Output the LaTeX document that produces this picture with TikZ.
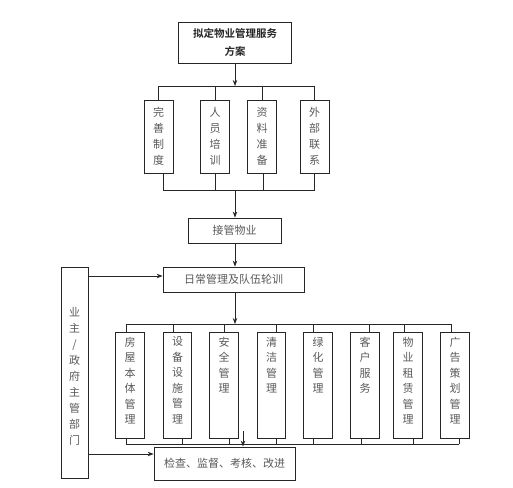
\documentclass[tikz,border=0pt]{standalone}
\usepackage{fontspec}
\setmainfont{Noto Sans CJK SC}[BoldFont={Noto Sans CJK SC Bold}]
\usetikzlibrary{arrows.meta}
\begin{document}
\begin{tikzpicture}[x=1pt,y=-1pt,
  line/.style={draw=black!85, line width=0.8pt},
  arr/.style={line, -{Stealth[length=6pt,width=4.5pt]}},
  box/.style={line, inner sep=0pt, text=black!65, font=\fontsize{11pt}{14pt}\selectfont},
  vboxA/.style={box, minimum width=29pt, minimum height=73pt, align=center, font=\fontsize{11pt}{16pt}\selectfont},
  vboxB/.style={box, minimum width=28.5pt, minimum height=106pt},
  vtxt/.style={inner sep=0pt, anchor=north, align=center, text=black!65, font=\fontsize{11pt}{15.5pt}\selectfont}
]
\useasboundingbox (0,0) rectangle (513,487);

% top
\node[box, minimum width=113pt, minimum height=41pt, align=center, text=black!85,
      font=\bfseries\fontsize{10.5pt}{18pt}\selectfont] (top) at (235,42.5) {拟定物业管理服务\\方案};

% first row
\coordinate (bar1L) at (158.5,86);
\coordinate (bar1R) at (314.5,86);
\draw[line] (bar1L) -- (bar1R);
\draw[arr] (top.south) -- (top.south |- bar1L);
\node[vboxA] (a1) at (158.5,136.5) {完\\善\\制\\度};
\node[vboxA] (a2) at (215,136.5) {人\\员\\培\\训};
\node[vboxA] (a3) at (262,136.5) {资\\料\\准\\备};
\node[vboxA] (a4) at (314.5,136.5) {外\\部\\联\\系};
\foreach \n in {a1,a2,a3,a4} \draw[line] (\n.north) -- (\n.north |- bar1L);

\coordinate (bar2L) at (163,190);
\coordinate (bar2R) at (314.5,190);
\draw[line] (bar2L) -- (bar2R);
\draw[line] ([xshift=4.5pt]a1.south) -- ([xshift=4.5pt]a1.south |- bar2L);
\draw[line] (a2.south) -- (a2.south |- bar2L);
\draw[line] ([xshift=1pt]a3.south) -- ([xshift=1pt]a3.south |- bar2L);
\draw[line] (a4.south) -- (a4.south |- bar2L);

% middle
\node[box, minimum width=93pt, minimum height=25pt] (take) at (234.5,230.5) {接管物业};
\coordinate (mid1) at (235,190);
\draw[arr] (mid1) -- (mid1 |- take.north);
\node[box, minimum width=141pt, minimum height=25pt] (daily) at (233.5,279.5) {日常管理及队伍轮训};
\draw[arr] (take.south -| mid1) -- (daily.north -| mid1);

% left box
\node[box, minimum width=27pt, minimum height=211pt] (own) at (74.5,372.5) {};
\node[vtxt, font=\fontsize{11pt}{16pt}\selectfont] (owntxt) at (74.5,307) {业\\主\\/\\政\\府\\主\\管\\部\\门};
\draw[arr] (own.east |- 0,276) -- (daily.west |- 0,276);

% second row
\coordinate (bar3L) at (126,324);
\coordinate (bar3R) at (451,324);
\draw[line] (bar3L) -- (bar3R);
\draw[arr] (daily.south -| mid1) -- (mid1 |- bar3L);

\node[vboxB] (b1) at (130,385) {};
\node[vboxB] (b2) at (177.5,385) {};
\node[vboxB] (b3) at (224,385) {};
\node[vboxB] (b4) at (271.5,385) {};
\node[vboxB] (b5) at (318,385) {};
\node[vboxB] (b6) at (365,385) {};
\node[vboxB] (b7) at (408,385) {};
\node[vboxB] (b8) at (455,385) {};
\node[vtxt] (t1) at ([yshift=-5pt]b1.north) {房\\屋\\本\\体\\管\\理};
\node[vtxt] (t2) at ([yshift=-5pt]b2.north) {设\\备\\设\\施\\管\\理};
\node[vtxt] (t3) at ([yshift=-5pt]b3.north) {安\\全\\管\\理};
\node[vtxt] (t4) at ([yshift=-5pt]b4.north) {清\\洁\\管\\理};
\node[vtxt] (t5) at ([yshift=-5pt]b5.north) {绿\\化\\管\\理};
\node[vtxt] (t6) at ([yshift=-5pt]b6.north) {客\\户\\服\\务};
\node[vtxt] (t7) at ([yshift=-5pt]b7.north) {物\\业\\租\\赁\\管\\理};
\node[vtxt] (t8) at ([yshift=-5pt]b8.north) {广\\告\\策\\划\\管\\理};

\draw[line] ([xshift=-4pt]b1.north) -- ([xshift=-4pt]b1.north |- bar3L);
\draw[line] ([xshift=-4.5pt]b2.north) -- ([xshift=-4.5pt]b2.north |- bar3L);
\draw[line] (b3.north) -- (b3.north |- bar3L);
\draw[line] ([xshift=4.5pt]b4.north) -- ([xshift=4.5pt]b4.north |- bar3L);
\draw[line] ([xshift=-5pt]b5.north) -- ([xshift=-5pt]b5.north |- bar3L);
\draw[line] ([xshift=4pt]b6.north) -- ([xshift=4pt]b6.north |- bar3L);
\draw[line] ([xshift=-4pt]b7.north) -- ([xshift=-4pt]b7.north |- bar3L);
\draw[line] ([xshift=-4pt]b8.north) -- ([xshift=-4pt]b8.north |- bar3L);

\coordinate (bar4L) at (126,444);
\coordinate (bar4R) at (459,444);
\draw[line] (bar4L) -- (bar4R);
\draw[line] ([xshift=-4pt]b1.south) -- ([xshift=-4pt]b1.south |- bar4L);
\draw[line] ([xshift=4.5pt]b2.south) -- ([xshift=4.5pt]b2.south |- bar4L);
\draw[line] ([xshift=5pt]b3.south) -- ([xshift=5pt]b3.south |- bar4L);
\draw[line] ([xshift=4.5pt]b4.south) -- ([xshift=4.5pt]b4.south |- bar4L);
\draw[line] ([xshift=-5pt]b5.south) -- ([xshift=-5pt]b5.south |- bar4L);
\draw[line] ([xshift=-4pt]b6.south) -- ([xshift=-4pt]b6.south |- bar4L);
\draw[line] ([xshift=5pt]b7.south) -- ([xshift=5pt]b7.south |- bar4L);
\draw[line] ([xshift=4pt]b8.south) -- ([xshift=4pt]b8.south |- bar4L);

% check box
\node[box, minimum width=141pt, minimum height=33pt] (chk) at (224.5,463.5) {检查、监督、考核、改进};
\coordinate (sa) at (243,431);
\draw[arr] (sa) -- (sa |- chk.north);
\draw[arr] (own.east |- 0,454) -- (chk.west |- 0,454);
\end{tikzpicture}
\end{document}
